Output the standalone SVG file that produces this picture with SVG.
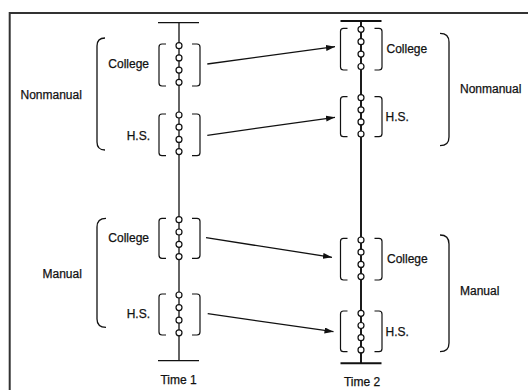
<svg xmlns="http://www.w3.org/2000/svg" width="528" height="390" viewBox="0 0 528 390">
<defs>
<style>
.ax{stroke:#111;stroke-width:1.3;fill:none}
.ax2{stroke:#111;stroke-width:1.9;fill:none}
.br{stroke:#111;stroke-width:1.2;fill:none}
.bg{stroke:#111;stroke-width:1.3;fill:none}
.dot{fill:#fff;stroke:#111;stroke-width:1.2}
.t{font-family:"Liberation Sans",Arial,sans-serif;font-size:12px;fill:#111;stroke:#111;stroke-width:0.25}
.c{stroke:#111;stroke-width:1.3;fill:none}
.fr{stroke:#333;stroke-width:2;fill:none}
</style>
<marker id="ah" markerUnits="userSpaceOnUse" markerWidth="10" markerHeight="7" refX="9" refY="3" orient="auto">
<path d="M0,0 L9,3 L0,6 z" fill="#111"/>
</marker>
</defs>
<rect width="528" height="390" fill="#fff"/>
<g id="frame">
<path class="fr" d="M9.7,390 V13 H528"/>
</g>
<g id="time1">
<path class="ax" d="M179,22.7 V360.7 M158,22.7 H199 M158,360.7 H199"/>
<text class="t" x="178.5" y="384" text-anchor="middle">Time 1</text>
</g>
<g id="time2">
<path class="ax2" d="M361,21 V363.3 M340.5,21 H381.5 M340.5,363.3 H381.5"/>
<text class="t" x="362" y="385.5" text-anchor="middle">Time 2</text>
</g>
<g id="t1-nonmanual">
<path class="bg" d="M105,38 Q97,38 97,46 V142 Q97,150 105,150"/>
<text class="t" x="20.5" y="99">Nonmanual</text>
</g>
<g id="t1-nonmanual-college">
<path class="br" d="M166,44 H162 Q159,44 159,47 V83 Q159,86 162,86 H166 M192,44 H197 Q200,44 200,47 V83 Q200,86 197,86 H192"/>
<circle class="dot" cx="179" cy="45.7" r="3"/>
<circle class="dot" cx="179" cy="57.9" r="3"/>
<circle class="dot" cx="179" cy="70.1" r="3"/>
<circle class="dot" cx="179" cy="82.3" r="3"/>
<text class="t" x="149" y="68" text-anchor="end">College</text>
</g>
<g id="t1-nonmanual-hs">
<path class="br" d="M166,114 H162 Q159,114 159,117 V152.7 Q159,155.7 162,155.7 H166 M192,114 H197 Q200,114 200,117 V152.7 Q200,155.7 197,155.7 H192"/>
<circle class="dot" cx="179" cy="115" r="3"/>
<circle class="dot" cx="179" cy="127.2" r="3"/>
<circle class="dot" cx="179" cy="139.4" r="3"/>
<circle class="dot" cx="179" cy="151.6" r="3"/>
<text class="t" x="150" y="140" text-anchor="end">H.S.</text>
</g>
<g id="t1-manual">
<path class="bg" d="M106,218.3 Q97,218.3 97,227 V319 Q97,327.3 106,327.3"/>
<text class="t" x="42.5" y="278">Manual</text>
</g>
<g id="t1-manual-college">
<path class="br" d="M166,218.3 H162 Q159,218.3 159,221.3 V255.3 Q159,258.3 162,258.3 H166 M192,218.3 H197 Q200,218.3 200,221.3 V255.3 Q200,258.3 197,258.3 H192"/>
<circle class="dot" cx="179" cy="219.7" r="3"/>
<circle class="dot" cx="179" cy="232" r="3"/>
<circle class="dot" cx="179" cy="244.3" r="3"/>
<circle class="dot" cx="179" cy="256.6" r="3"/>
<text class="t" x="149" y="242" text-anchor="end">College</text>
</g>
<g id="t1-manual-hs">
<path class="br" d="M166,294 H162 Q159,294 159,297 V332 Q159,335 162,335 H166 M192,294 H197 Q200,294 200,297 V332 Q200,335 197,335 H192"/>
<circle class="dot" cx="179" cy="295" r="3"/>
<circle class="dot" cx="179" cy="307.6" r="3"/>
<circle class="dot" cx="179" cy="320.2" r="3"/>
<circle class="dot" cx="179" cy="332.8" r="3"/>
<text class="t" x="150" y="318" text-anchor="end">H.S.</text>
</g>
<g id="t2-nonmanual">
<path class="bg" d="M440,33.3 Q449,33.3 449,42 V137 Q449,145.7 440,145.7"/>
<text class="t" x="460" y="92.5">Nonmanual</text>
</g>
<g id="t2-nonmanual-college">
<path class="br" d="M347.5,28.3 H343.5 Q340.5,28.3 340.5,31.3 V67 Q340.5,70 343.5,70 H347.5 M374.5,28.3 H379 Q382,28.3 382,31.3 V67 Q382,70 379,70 H374.5"/>
<circle class="dot" cx="361" cy="29.3" r="3"/>
<circle class="dot" cx="361" cy="41.7" r="3"/>
<circle class="dot" cx="361" cy="54.1" r="3"/>
<circle class="dot" cx="361" cy="66.5" r="3"/>
<text class="t" x="386.5" y="52.7">College</text>
</g>
<g id="t2-nonmanual-hs">
<path class="br" d="M347.5,96.7 H343.5 Q340.5,96.7 340.5,99.7 V133.7 Q340.5,136.7 343.5,136.7 H347.5 M374.5,96.7 H379 Q382,96.7 382,99.7 V133.7 Q382,136.7 379,136.7 H374.5"/>
<circle class="dot" cx="361" cy="97.7" r="3"/>
<circle class="dot" cx="361" cy="109.8" r="3"/>
<circle class="dot" cx="361" cy="121.9" r="3"/>
<circle class="dot" cx="361" cy="134" r="3"/>
<text class="t" x="385.5" y="121">H.S.</text>
</g>
<g id="t2-manual">
<path class="bg" d="M440,235 Q449,235 449,244 V343 Q449,351.7 440,351.7"/>
<text class="t" x="460" y="295">Manual</text>
</g>
<g id="t2-manual-college">
<path class="br" d="M347.5,238.3 H343.5 Q340.5,238.3 340.5,241.3 V277 Q340.5,280 343.5,280 H347.5 M374.5,238.3 H379 Q382,238.3 382,241.3 V277 Q382,280 379,280 H374.5"/>
<circle class="dot" cx="361" cy="240" r="3"/>
<circle class="dot" cx="361" cy="252.2" r="3"/>
<circle class="dot" cx="361" cy="264.4" r="3"/>
<circle class="dot" cx="361" cy="276.6" r="3"/>
<text class="t" x="387" y="262.7">College</text>
</g>
<g id="t2-manual-hs">
<path class="br" d="M347.5,311 H343.5 Q340.5,311 340.5,314 V348.7 Q340.5,351.7 343.5,351.7 H347.5 M374.5,311 H379 Q382,311 382,314 V348.7 Q382,351.7 379,351.7 H374.5"/>
<circle class="dot" cx="361" cy="313.3" r="3"/>
<circle class="dot" cx="361" cy="325.5" r="3"/>
<circle class="dot" cx="361" cy="337.7" r="3"/>
<circle class="dot" cx="361" cy="349.9" r="3"/>
<text class="t" x="385.5" y="336">H.S.</text>
</g>
<g id="connectors">
<line class="c" x1="207.3" y1="64" x2="335" y2="46.7" marker-end="url(#ah)"/>
<line class="c" x1="207.3" y1="135.3" x2="335" y2="117.3" marker-end="url(#ah)"/>
<line class="c" x1="206" y1="237.7" x2="332" y2="257.3" marker-end="url(#ah)"/>
<line class="c" x1="207.7" y1="313.7" x2="333.5" y2="331.7" marker-end="url(#ah)"/>
</g>
</svg>
